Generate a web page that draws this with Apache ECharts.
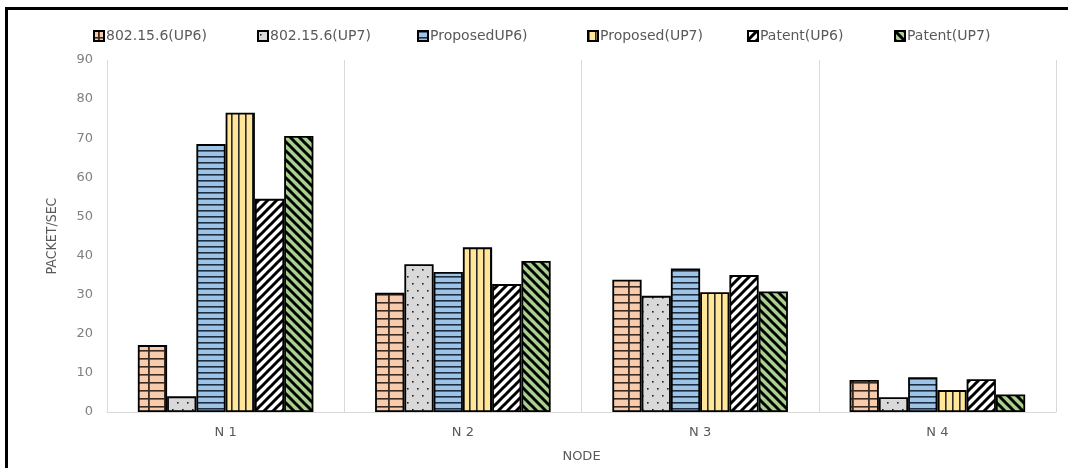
<!DOCTYPE html>
<html>
<head>
<meta charset="utf-8">
<script src="https://cdn.jsdelivr.net/npm/echarts@6/dist/echarts.min.js"></script>
<style>
  html, body { margin: 0; padding: 0; background: #fff; }
  #chart { width: 1068px; height: 468px; }
</style>
</head>
<body>
<div id="chart"></div>
<script>
// Nodes on the x axis
const categories = ['N 1', 'N 2', 'N 3', 'N 4'];
// Throughput per scheme (packet/sec)
const names = ['802.15.6(UP6)', '802.15.6(UP7)', 'ProposedUP6)', 'Proposed(UP7)', 'Patent(UP6)', 'Patent(UP7)'];
const std_up6 = [17.1, 30.5, 33.8, 8.2];
const std_up7 = [4.0, 37.8, 29.7, 3.8];
const prop_up6 = [68.5, 35.8, 36.7, 8.9];
const prop_up7 = [76.5, 42.1, 30.6, 5.6];
const pat_up6 = [54.5, 32.7, 35.0, 8.4];
const pat_up7 = [70.6, 38.6, 30.8, 4.5];
const yTicks = [0, 10, 20, 30, 40, 50, 60, 70, 80, 90];

// ---- fill patterns drawn on small canvas tiles ----
function tile(w, h, draw) {
  const c = document.createElement('canvas');
  c.width = w; c.height = h;
  draw(c.getContext('2d'), w, h);
  return { image: c, repeat: 'repeat' };
}
function gridFill() {
  return tile(16, 8, (g, w, h) => {
    g.fillStyle = '#F8CBAD'; g.fillRect(0, 0, w, h);
    g.fillStyle = '#3a2c24';
    g.fillRect(4, 0, 1.8, h);
    g.fillRect(0, 6, w, 1.6);
  });
}
function dotFill() {
  return tile(10, 14, (g, w, h) => {
    g.fillStyle = '#D9D9D9'; g.fillRect(0, 0, w, h);
    g.fillStyle = '#222';
    g.fillRect(2, 3, 1.6, 1.6);
    g.fillRect(7, 10, 1.6, 1.6);
  });
}
function hLineFill() {
  return tile(8, 6, (g, w, h) => {
    g.fillStyle = '#9DC3E6'; g.fillRect(0, 0, w, h);
    g.fillStyle = '#1f2d40';
    g.fillRect(0, 0, w, 1.6);
  });
}
function vLineFill() {
  return tile(7, 8, (g, w, h) => {
    g.fillStyle = '#FFE699'; g.fillRect(0, 0, w, h);
    g.fillStyle = '#2a2a2a';
    g.fillRect(0, 0, 1.6, h);
  });
}
function diagFill(bg, forward) {
  return tile(9, 9, (g, w, h) => {
    g.fillStyle = bg; g.fillRect(0, 0, w, h);
    g.strokeStyle = '#000'; g.lineWidth = 3; g.lineCap = 'square';
    for (let k = -1; k <= 1; k++) {
      g.beginPath();
      if (forward) { g.moveTo(k * w, h); g.lineTo(k * w + w, 0); }
      else { g.moveTo(k * w, 0); g.lineTo(k * w + w, h); }
      g.stroke();
    }
  });
}

const fills = [gridFill(), dotFill(), hLineFill(), vLineFill(), diagFill('#ffffff', true), diagFill('#A9D18E', false)];
const values = [std_up6, std_up7, prop_up6, prop_up7, pat_up6, pat_up7];
const legendLeft = [88, 252, 412, 582, 742, 889];

const textColor = '#595959';
const chart = echarts.init(document.getElementById('chart'), null, { renderer: 'canvas' });

chart.setOption({
  animation: false,
  backgroundColor: '#fff',
  legend: names.map((n, i) => ({
    data: [n],
    left: legendLeft[i],
    top: 24,
    itemWidth: 10,
    itemHeight: 10,
    itemGap: 5,
    icon: 'rect',
    textStyle: { color: textColor, fontFamily: 'DejaVu Sans', fontSize: 14, padding: [0, 0, 0, -3] }
  })),
  grid: { left: 107, right: 12, top: 60, bottom: 56 },
  xAxis: {
    type: 'category',
    data: categories,
    name: 'NODE',
    nameLocation: 'middle',
    nameGap: 38,
    nameTextStyle: { color: textColor, fontFamily: 'DejaVu Sans', fontSize: 13 },
    axisLine: { lineStyle: { color: '#D9D9D9', width: 1 } },
    axisTick: { show: false },
    axisLabel: { color: textColor, fontFamily: 'DejaVu Sans', fontSize: 13, margin: 14 },
    splitLine: { show: true, lineStyle: { color: '#D9D9D9', width: 1 } }
  },
  yAxis: {
    type: 'value',
    min: yTicks[0],
    max: yTicks[yTicks.length - 1],
    interval: yTicks[1] - yTicks[0],
    name: 'PACKET/SEC',
    nameLocation: 'middle',
    nameGap: 48,
    nameTextStyle: { color: textColor, fontFamily: 'Liberation Sans Narrow, DejaVu Sans Condensed', fontSize: 14 },
    axisLine: { show: false },
    axisTick: { show: false },
    splitLine: { show: false },
    axisLabel: { color: '#7f7f7f', fontFamily: 'DejaVu Sans', fontSize: 13, margin: 14 }
  },
  series: names.map((n, i) => ({
    name: n,
    type: 'bar',
    data: values[i],
    barGap: '0%',
    barCategoryGap: '26%',
    itemStyle: { color: fills[i], borderColor: '#000', borderWidth: 1.8 }
  })),
  // outer frame: only the top and left edges fall inside the page
  graphic: [
    { type: 'line', shape: { x1: 6.5, y1: 8.5, x2: 1068, y2: 8.5 }, style: { stroke: '#000', lineWidth: 3 }, silent: true },
    { type: 'line', shape: { x1: 6.5, y1: 7, x2: 6.5, y2: 468 }, style: { stroke: '#000', lineWidth: 3 }, silent: true }
  ]
});
</script>
</body>
</html>
